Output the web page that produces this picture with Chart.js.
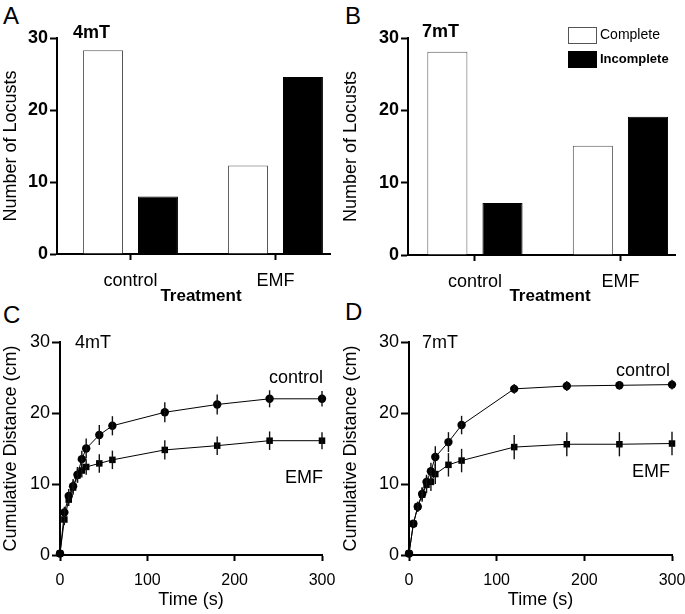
<!DOCTYPE html>
<html>
<head>
<title>Locust movement under EMF</title>
<script src="https://cdn.jsdelivr.net/npm/chart.js"></script>
<style>
  body { margin: 0; background: #fff; width: 685px; height: 614px; position: relative; overflow: hidden;
         font-family: 'Liberation Sans', Arial, sans-serif; }
  canvas { position: absolute; }
  .panel { position: absolute; font-size: 24px; line-height: 1; color: #000; }
</style>
</head>
<body>
<div class="panel" style="left:3px;top:4px">A</div>
<div class="panel" style="left:345px;top:4px">B</div>
<div class="panel" style="left:3px;top:303px">C</div>
<div class="panel" style="left:345px;top:300px">D</div>

<canvas id="chartA" width="340" height="307" style="left:0;top:0"></canvas>
<canvas id="chartB" width="345" height="307" style="left:340px;top:0"></canvas>
<canvas id="chartC" width="340" height="307" style="left:0;top:307px"></canvas>
<canvas id="chartD" width="345" height="307" style="left:340px;top:307px"></canvas>

<script>
// bar panels: number of locusts per treatment
const treatments = ['control', 'EMF'];
const complete4mT = [28.3, 12.3];
const incomplete4mT = [8.0, 24.6];
const complete7mT = [28.1, 15.1];
const incomplete7mT = [7.2, 19.1];

// line panels: cumulative distance (cm) over time (s)
const times = [0, 5, 10, 15, 20, 25, 30, 45, 60, 120, 180, 240, 300];
const control4mT = [0.2, 6.0, 8.3, 9.7, 11.3, 13.5, 15.0, 16.9, 18.2, 20.1, 21.2, 22.0, 22.0];
const control4mTErr = [0, 0.8, 1.0, 1.0, 1.1, 1.2, 1.4, 1.4, 1.35, 1.4, 1.4, 1.2, 1.1];
const emf4mT = [0.2, 5.0, 7.8, 9.5, 11.2, 11.9, 12.4, 12.9, 13.4, 14.8, 15.4, 16.1, 16.1];
const emf4mTErr = [0, 0.8, 0.9, 1.0, 1.0, 1.0, 1.1, 1.3, 1.3, 1.35, 1.3, 1.3, 1.2];
const control7mT = [0.2, 4.4, 6.8, 8.6, 10.3, 11.8, 13.8, 15.9, 18.3, 23.4, 23.8, 23.9, 24.0];
const control7mTErr = [0, 0.5, 0.7, 0.9, 1.0, 1.2, 1.5, 1.4, 1.3, 0.7, 0.7, 0.6, 0.7];
const emf7mT = [0.2, 4.4, 6.8, 8.5, 9.9, 10.3, 11.4, 12.7, 13.3, 15.2, 15.6, 15.6, 15.7];
const emf7mTErr = [0, 0.5, 0.7, 1.0, 1.2, 1.3, 1.4, 1.65, 1.65, 1.7, 1.7, 1.7, 1.65];

const FONT = "'Liberation Sans', Arial, sans-serif";
Chart.defaults.font.family = FONT;
Chart.defaults.color = '#000';

// free text, the B legend and error bars
const extras = {
  id: 'extras',
  afterDatasetsDraw(chart, args, opts) {
    const ctx = chart.ctx;
    ctx.save();
    // error bars
    chart.data.datasets.forEach((ds, i) => {
      if (!ds.errors) return;
      const meta = chart.getDatasetMeta(i);
      const ys = chart.scales.y;
      ctx.strokeStyle = '#111';
      ctx.lineWidth = 1.4;
      meta.data.forEach((pt, j) => {
        const e = ds.errors[j];
        if (!e) return;
        const v = ds.data[j].y;
        ctx.beginPath();
        ctx.moveTo(pt.x, ys.getPixelForValue(v - e));
        ctx.lineTo(pt.x, ys.getPixelForValue(v + e));
        ctx.stroke();
      });
    });
    // notes
    (opts.notes || []).forEach(n => {
      ctx.font = (n.bold ? 'bold ' : '') + n.size + 'px ' + FONT;
      ctx.fillStyle = '#000';
      ctx.textAlign = n.align || 'left';
      ctx.textBaseline = 'middle';
      ctx.fillText(n.text, n.x, n.y);
    });
    // legend
    if (opts.legend) {
      const L = opts.legend;
      chart.data.datasets.forEach((ds, i) => {
        const y = L.y + i * L.gap;
        ctx.fillStyle = ds.backgroundColor;
        ctx.fillRect(L.x, y, L.w, L.h);
        ctx.strokeStyle = ds.borderColor;
        ctx.lineWidth = 1;
        ctx.strokeRect(L.x + 0.5, y + 0.5, L.w - 1, L.h - 1);
        ctx.fillStyle = '#000';
        ctx.font = (i === 1 ? 'bold 13px ' : '14px ') + FONT;
        ctx.textAlign = 'left';
        ctx.textBaseline = 'middle';
        ctx.fillText(ds.label, L.x + L.w + 3, y + L.h / 2);
      });
    }
    ctx.restore();
  }
};

function axisGrid(len) {
  return { display: true, drawOnChartArea: false, offset: false, tickLength: len, tickColor: '#000', tickWidth: 2 };
}
const axisBorder = { display: true, color: '#000', width: 2 };

// fixed box for a horizontal axis, no extra side padding from its labels
function fixX(h) {
  return s => { s.height = h; s.paddingLeft = 0; s.paddingRight = 0; };
}

function barChart(id, complete, incomplete, o) {
  return new Chart(document.getElementById(id), {
    type: 'bar',
    data: {
      labels: treatments.map((t, i) => i),
      datasets: [
        { label: 'Complete', data: complete, backgroundColor: '#ffffff', borderColor: '#555555', borderWidth: 1 },
        { label: 'Incomplete', data: incomplete, backgroundColor: '#000000', borderColor: '#000000', borderWidth: 1 }
      ]
    },
    options: {
      responsive: false,
      animation: false,
      devicePixelRatio: 1,
      categoryPercentage: 0.758,
      barPercentage: 0.727,
      layout: { padding: { top: o.top, right: o.right, left: 0, bottom: 0 } },
      plugins: {
        legend: { display: false }, tooltip: { enabled: false },
        extras: { notes: o.notes.concat([{ text: 'Treatment', x: o.titleX, y: 296, size: 17, bold: true, align: 'center' }]), legend: o.legend }
      },
      scales: {
        x: {
          type: 'linear', min: o.xmin, max: o.xmax, offset: false,
          afterBuildTicks: s => { s.ticks = treatments.map((t, i) => ({ value: i })); },
          afterFit: fixX(o.xh),
          ticks: { callback: v => treatments[v], padding: 10, font: { size: 18 }, maxRotation: 0 },
          grid: axisGrid(6),
          border: axisBorder
        },
        y: {
          min: 0, max: 30,
          afterFit: s => { s.width = o.yw; },
          ticks: { stepSize: 10, padding: 2, font: { size: 18, weight: 'bold' } },
          grid: axisGrid(7),
          border: axisBorder,
          title: { display: true, text: 'Number of Locusts', font: { size: 18 }, padding: 0 }
        }
      }
    },
    plugins: [extras]
  });
}

function lineChart(id, ctrl, ctrlErr, emf, emfErr, o) {
  const pts = vals => times.map((t, i) => ({ x: t, y: vals[i] }));
  const base = { borderColor: '#000', borderWidth: 1, backgroundColor: '#000', pointBackgroundColor: '#000',
                 pointBorderColor: '#000', pointBorderWidth: 0, tension: 0, clip: false };
  return new Chart(document.getElementById(id), {
    type: 'line',
    data: {
      datasets: [
        Object.assign({ label: 'control', data: pts(ctrl), errors: ctrlErr, pointStyle: 'circle', pointRadius: 4.2 }, base),
        Object.assign({ label: 'EMF', data: pts(emf), errors: emfErr, pointStyle: 'rect', pointRadius: 4.6 }, base)
      ]
    },
    options: {
      responsive: false,
      animation: false,
      devicePixelRatio: 1,
      layout: { padding: { top: o.top, right: o.right, left: 0, bottom: 0 } },
      plugins: { legend: { display: false }, tooltip: { enabled: false }, extras: { notes: o.notes } },
      scales: {
        x: {
          type: 'linear', min: 0, max: 300,
          afterFit: fixX(o.xh),
          ticks: { stepSize: 100, padding: 10, font: { size: 16 }, maxRotation: 0 },
          grid: axisGrid(6),
          border: axisBorder,
          title: { display: true, text: 'Time (s)', font: { size: 18 }, padding: { top: 0, bottom: 3 } }
        },
        y: {
          min: 0, max: 30,
          afterFit: s => { s.width = o.yw; },
          ticks: { stepSize: 10, padding: 2, font: { size: 18 } },
          grid: axisGrid(8),
          border: axisBorder,
          title: { display: true, text: 'Cumulative Distance (cm)', font: { size: 18 }, padding: 0 }
        }
      }
    },
    plugins: [extras]
  });
}

barChart('chartA', complete4mT, incomplete4mT, {
  top: 38, right: 10, yw: 57, xh: 53, xmin: -0.507, xmax: 1.376, titleX: 201,
  notes: [{ text: '4mT', x: 73, y: 33, size: 18, bold: true }]
});
barChart('chartB', complete7mT, incomplete7mT, {
  top: 38, right: 10, yw: 68, xh: 52, xmin: -0.46, xmax: 1.375, titleX: 210,
  notes: [{ text: '7mT', x: 82, y: 32, size: 18, bold: true }],
  legend: { x: 228, y: 27, w: 29, h: 17, gap: 24 }
});
lineChart('chartC', control4mT, control4mTErr, emf4mT, emf4mTErr, {
  top: 35, right: 18, yw: 60, xh: 59,
  notes: [
    { text: '4mT', x: 75, y: 36, size: 18 },
    { text: 'control', x: 323, y: 71, size: 18, align: 'right' },
    { text: 'EMF', x: 323, y: 171, size: 18, align: 'right' }
  ]
});
lineChart('chartD', control7mT, control7mTErr, emf7mT, emf7mTErr, {
  top: 35, right: 13, yw: 69, xh: 59,
  notes: [
    { text: '7mT', x: 82, y: 36, size: 18 },
    { text: 'control', x: 330, y: 64, size: 18, align: 'right' },
    { text: 'EMF', x: 330, y: 165, size: 18, align: 'right' }
  ]
});
</script>
</body>
</html>
